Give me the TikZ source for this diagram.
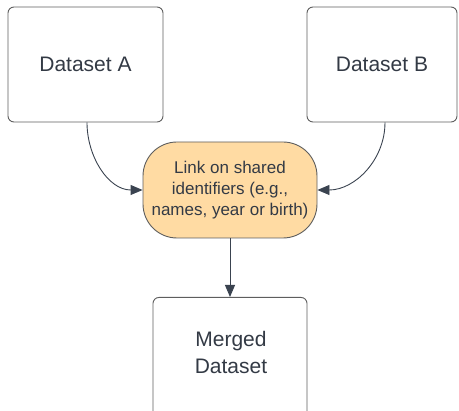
\documentclass[tikz,border=0pt]{standalone}
\usepackage{fontspec}
\setmainfont{Liberation Sans}
\usetikzlibrary{arrows.meta}
\definecolor{txt}{HTML}{333A45}
\definecolor{edge}{HTML}{5E5E5E}
\definecolor{linkfill}{HTML}{FFDBA3}
\definecolor{arrowc}{HTML}{3A4350}
\tikzset{
  databox/.style={draw=edge, line width=0.9pt, rounded corners=6pt, fill=white,
    text=txt, font=\fontsize{21}{27}\selectfont, align=center, inner sep=0pt},
  linkbox/.style={draw=edge, line width=0.9pt, rounded corners=34pt, fill=linkfill,
    text=txt, font=\fontsize{17}{21}\selectfont, align=center,
    minimum width=174pt, minimum height=96pt, inner sep=0pt},
  flow/.style={draw=arrowc, line width=0.9pt, -{Triangle[length=12pt,width=10pt]}}
}
\begin{document}
\begin{tikzpicture}[x=1pt,y=-1pt]
\useasboundingbox (0,0) rectangle (459,411);
\begin{scope}
\clip (0,0) rectangle (459,411);
% source datasets
\node[databox, minimum width=155pt, minimum height=115pt] (a) at (85.5,64.5) {Dataset A};
\node[databox, minimum width=150pt, minimum height=115pt] (b) at (382,64.5) {Dataset B};
% result, running past the lower edge
\node[databox, minimum width=154pt, minimum height=140pt, anchor=north] (m) at (230,297) {};
\node[text=txt, font=\fontsize{21}{27}\selectfont, align=center] (mt) at (231,352) {Merged\\Dataset};
\end{scope}
% linking step
\node[linkbox] (l) at (230,190) {Link on shared\\identifiers (e.g.,\\names, year or birth)};
% connectors
\draw[flow] ([xshift=1.5pt]a.south) to[out=-90,in=180] (l.west);
\draw[flow] ([xshift=3pt]b.south) to[out=-90,in=0] (l.east);
\draw[flow] (l.south) -- (m.north);
\end{tikzpicture}
\end{document}
